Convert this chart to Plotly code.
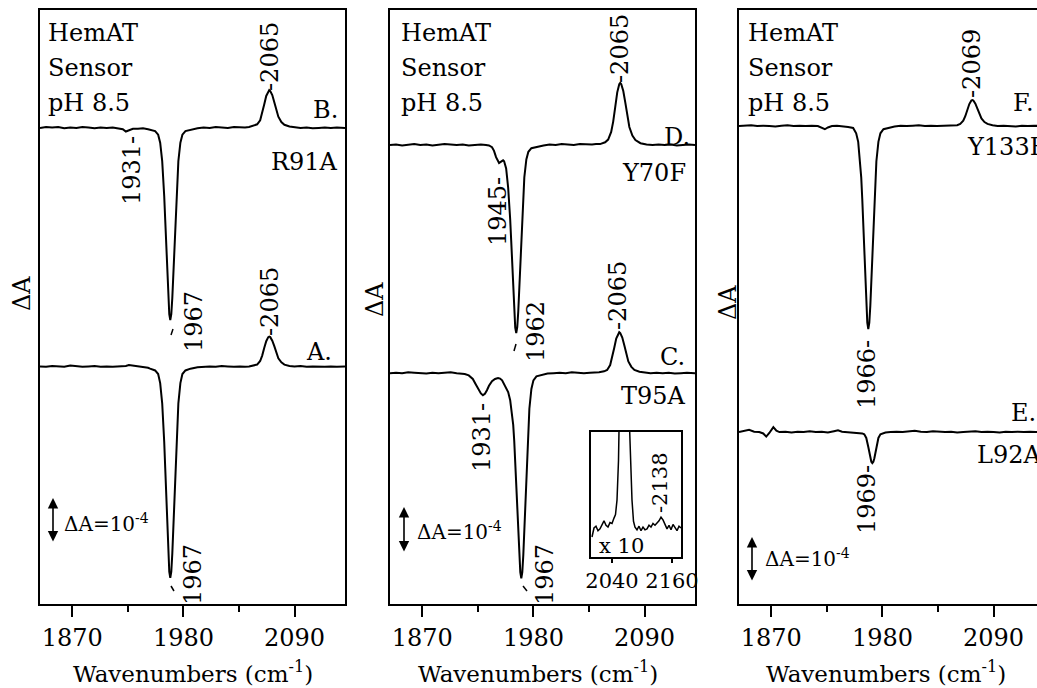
import plotly.graph_objects as go

# ---------------- data (ΔA in units of 1e-4, relative to each trace's own baseline) ----------------
wn_B = [1838, 1844, 1850, 1856, 1862, 1868, 1874, 1880, 1886, 1892, 1898, 1904, 1910, 1916,
        1920, 1923, 1926, 1930, 1935, 1940, 1945, 1947,
        1952, 1955, 1957, 1959,
        1960, 1961, 1962, 1963, 1964, 1965, 1966, 1967, 1968, 1969, 1970, 1971, 1972, 1973, 1974, 1975,
        1977, 1979, 1982, 1987, 1994,
        2000, 2006, 2012, 2018, 2024, 2030, 2036, 2041, 2045,
        2050, 2053, 2056, 2058, 2060, 2062, 2064, 2065, 2066, 2068, 2070, 2072, 2074, 2077, 2080, 2085,
        2090, 2096, 2102, 2108, 2114, 2120, 2126, 2132, 2140]
dA_B = [0.00, 0.02, 0.01, 0.02, -0.01, 0.01, 0.00, 0.02, 0.01, -0.01, 0.01, 0.00, 0.01, -0.01,
        -0.03, -0.08, -0.05, -0.02, -0.02, -0.01, -0.03, -0.04,
        -0.07, -0.15, -0.33, -0.74,
        -1.08, -1.52, -2.05, -2.65, -3.25, -3.78, -4.14, -4.27, -4.14, -3.78, -3.25, -2.65, -2.05, -1.52, -1.08, -0.74,
        -0.33, -0.15, -0.07, -0.04, -0.01,
        0.01, 0.00, 0.02, 0.01, 0.00, 0.02, 0.01, 0.01, 0.02,
        0.05, 0.08, 0.17, 0.32, 0.52, 0.71, 0.82, 0.84, 0.82, 0.73, 0.57, 0.39, 0.25, 0.13, 0.07, 0.03,
        0.01, 0.00, 0.01, -0.01, 0.00, 0.01, 0.00, 0.01, 0.00]

wn_A = [1838, 1844, 1850, 1856, 1862, 1868, 1874, 1880, 1886, 1892, 1898, 1904, 1910, 1916,
        1920, 1923, 1926, 1930, 1935, 1940, 1945, 1947,
        1952, 1955, 1957, 1959,
        1960, 1961, 1962, 1963, 1964, 1965, 1966, 1967, 1968, 1969, 1970, 1971, 1972, 1973, 1974, 1975,
        1977, 1979, 1982, 1987, 1994,
        2000, 2006, 2012, 2018, 2024, 2030, 2036, 2041, 2045,
        2050, 2053, 2056, 2058, 2060, 2062, 2064, 2065, 2066, 2068, 2070, 2072, 2074, 2077, 2080, 2085,
        2090, 2096, 2102, 2108, 2114, 2120, 2126, 2132, 2140]
dA_A = [0.01, 0.00, 0.02, 0.01, 0.00, 0.03, 0.01, 0.00, 0.01, 0.02, 0.00, 0.01, 0.00, 0.01,
        0.00, 0.02, 0.04, 0.03, 0.01, 0.00, -0.02, -0.04,
        -0.08, -0.16, -0.36, -0.81,
        -1.19, -1.67, -2.25, -2.91, -3.57, -4.15, -4.55, -4.69, -4.55, -4.15, -3.57, -2.91, -2.25, -1.67, -1.19, -0.81,
        -0.36, -0.16, -0.08, -0.04, -0.01,
        0.00, 0.01, 0.00, 0.02, 0.01, 0.00, 0.01, 0.00, 0.01,
        0.03, 0.05, 0.13, 0.25, 0.42, 0.57, 0.66, 0.67, 0.66, 0.58, 0.46, 0.31, 0.19, 0.10, 0.05, 0.02,
        0.01, 0.02, 0.00, 0.01, 0.00, 0.00, 0.01, 0.00, 0.01]

wn_D = [1838, 1844, 1850, 1856, 1862, 1868, 1874, 1880, 1886, 1892, 1898, 1904, 1910, 1916, 1922, 1928,
        1933, 1936, 1939, 1941, 1943, 1945, 1946, 1948, 1949, 1950, 1951,
        1953, 1955, 1956, 1957, 1958, 1959, 1960, 1961, 1962, 1963, 1964, 1965, 1966, 1967, 1968, 1969, 1970, 1971,
        1973, 1975, 1978, 1983,
        1990, 1996, 2002, 2008, 2014, 2020, 2026, 2032, 2038, 2042, 2046,
        2051, 2054, 2057, 2059, 2061, 2063, 2065, 2066, 2067, 2069, 2071, 2073, 2075, 2078, 2081, 2086, 2092,
        2098, 2104, 2110, 2116, 2122, 2128, 2134, 2140]
dA_D = [0.00, 0.01, -0.01, 0.01, 0.02, 0.00, 0.01, -0.01, 0.00, 0.02, 0.01, 0.00, 0.01, -0.01, 0.00, 0.01,
        0.00, -0.01, -0.05, -0.13, -0.27, -0.37, -0.40, -0.37, -0.35, -0.34, -0.36,
        -0.52, -0.95, -1.25, -1.65, -2.12, -2.66, -3.22, -3.72, -4.06, -4.18, -4.05, -3.70, -3.18, -2.60, -2.01, -1.49, -1.06, -0.72,
        -0.32, -0.15, -0.07, -0.04,
        -0.01, 0.01, 0.00, 0.02, 0.01, 0.00, 0.02, 0.01, 0.01, 0.02, 0.02,
        0.06, 0.12, 0.29, 0.52, 0.84, 1.17, 1.35, 1.38, 1.35, 1.20, 0.94, 0.64, 0.40, 0.21, 0.11, 0.04, 0.01,
        0.00, 0.01, 0.00, 0.01, -0.01, 0.00, 0.01, 0.00]

wn_C = [1838, 1844, 1850, 1856, 1862, 1868, 1874, 1880, 1886, 1892, 1898, 1904,
        1908, 1912, 1916, 1920, 1923, 1926, 1928, 1930, 1932, 1934, 1936, 1939, 1942, 1945, 1947, 1949, 1951,
        1953, 1955, 1957, 1958, 1960,
        1961, 1962, 1963, 1964, 1965, 1966, 1967, 1968, 1969, 1970, 1971, 1972, 1973, 1974, 1975, 1976,
        1978, 1980, 1983, 1988,
        1994, 2000, 2006, 2012, 2018, 2024, 2030, 2036, 2041, 2045,
        2050, 2053, 2056, 2058, 2060, 2062, 2064, 2065, 2066, 2068, 2070, 2072, 2074, 2077, 2080, 2085,
        2090, 2096, 2102, 2108, 2114, 2120, 2126, 2132, 2140]
dA_C = [0.00, 0.01, 0.00, 0.02, 0.01, 0.00, -0.01, 0.01, 0.00, 0.01, 0.02, 0.00,
        -0.01, -0.02, -0.05, -0.13, -0.25, -0.38, -0.45, -0.49, -0.46, -0.38, -0.28, -0.18, -0.13, -0.11, -0.12, -0.16, -0.25,
        -0.32, -0.42, -0.60, -0.75, -1.15,
        -1.50, -1.95, -2.45, -3.00, -3.55, -4.05, -4.42, -4.56, -4.42, -4.04, -3.47, -2.83, -2.19, -1.62, -1.15, -0.79,
        -0.35, -0.16, -0.07, -0.04,
        -0.01, 0.00, 0.01, 0.00, 0.02, 0.01, 0.00, 0.01, 0.01, 0.02,
        0.04, 0.07, 0.18, 0.35, 0.56, 0.77, 0.89, 0.91, 0.89, 0.79, 0.62, 0.42, 0.26, 0.14, 0.07, 0.03,
        0.01, 0.00, 0.01, 0.00, 0.01, -0.01, 0.00, 0.01, 0.00]

# inset: trace C, 2000-2178 cm-1, shown magnified x10
wn_inset = [2000, 2004, 2008, 2012, 2016, 2020, 2024, 2028, 2032, 2036, 2040, 2044,
            2047, 2050, 2053, 2056, 2060, 2065, 2070, 2074, 2077, 2080, 2083, 2086,
            2090, 2094, 2098, 2102, 2106, 2110, 2114, 2118, 2122, 2126, 2130, 2134, 2138,
            2142, 2146, 2150, 2154, 2158, 2162, 2166, 2170, 2174, 2178]
dA_inset = [-0.020, 0.000, 0.004, -0.006, -0.002, 0.008, 0.016, 0.006, 0.002, 0.012, 0.010, 0.022,
            0.030, 0.062, 0.15, 0.35, 0.56, 0.91, 0.62, 0.26, 0.14, 0.062, 0.015, 0.002,
            -0.004, 0.004, -0.006, 0.002, -0.004, -0.002, 0.006, 0.002, 0.010, 0.006, 0.011, 0.016, 0.024,
            0.018, 0.008, -0.002, 0.006, -0.004, 0.008, 0.000, -0.006, 0.004, 0.000]

wn_F = [1838, 1844, 1850, 1856, 1862, 1868, 1874, 1880, 1886, 1892, 1898, 1904, 1910, 1916,
        1920, 1923, 1926, 1930, 1935, 1940, 1946, 1951,
        1954, 1956, 1958,
        1959, 1960, 1961, 1962, 1963, 1964, 1965, 1966, 1967, 1968, 1969, 1970, 1971, 1972, 1973, 1974,
        1976, 1978, 1981, 1986,
        1992, 1998, 2004, 2010, 2016, 2022, 2028, 2034, 2040, 2044,
        2049, 2054, 2057, 2060, 2062, 2064, 2066, 2068, 2069, 2070, 2072, 2074, 2076, 2078, 2081, 2084, 2089,
        2094, 2100, 2106, 2112, 2118, 2124, 2130, 2136]
dA_F = [0.00, 0.01, 0.02, 0.00, 0.01, 0.00, -0.01, 0.01, 0.02, 0.00, 0.01, 0.00, 0.01, 0.00,
        -0.03, -0.07, -0.03, 0.00, 0.01, 0.00, -0.02, -0.04,
        -0.16, -0.35, -0.78,
        -1.14, -1.61, -2.16, -2.80, -3.43, -3.99, -4.37, -4.51, -4.37, -3.99, -3.43, -2.80, -2.16, -1.61, -1.14, -0.78,
        -0.35, -0.16, -0.07, -0.04,
        -0.01, 0.01, 0.00, 0.01, 0.02, 0.00, 0.01, 0.00, 0.01, 0.00,
        0.01, 0.02, 0.05, 0.12, 0.22, 0.36, 0.49, 0.57, 0.58, 0.57, 0.50, 0.39, 0.27, 0.17, 0.09, 0.05, 0.02,
        0.00, 0.01, 0.00, -0.01, 0.01, 0.00, 0.01, 0.00]

wn_E = [1838, 1843, 1848, 1853, 1858, 1862, 1865, 1868, 1872, 1875, 1878,
        1884, 1890, 1896, 1902, 1908, 1914, 1920, 1926, 1932, 1936, 1940, 1946, 1952,
        1957, 1960, 1962, 1964, 1966,
        1967, 1968, 1969, 1970, 1971, 1972, 1973, 1974,
        1976, 1978, 1980, 1983, 1988,
        1994, 2000, 2006, 2012, 2018, 2024, 2030, 2036, 2042, 2048, 2054, 2060, 2066, 2072, 2078, 2084,
        2090, 2096, 2102, 2108, 2114, 2120, 2126, 2132, 2138]
dA_E = [0.00, 0.02, 0.05, 0.01, 0.00, -0.03, -0.10, -0.02, 0.11, 0.03, 0.00,
        0.01, -0.01, 0.01, 0.00, 0.02, 0.00, 0.01, -0.01, 0.02, 0.04, 0.01, 0.00, -0.01,
        -0.01, -0.03, -0.05, -0.13, -0.33,
        -0.46, -0.58, -0.66, -0.69, -0.66, -0.58, -0.46, -0.33,
        -0.13, -0.05, -0.03, -0.01, 0.00,
        0.01, 0.00, 0.02, 0.03, 0.01, 0.00, 0.02, 0.01, 0.00, 0.01, -0.01, 0.00, 0.01, 0.02, 0.00, 0.01,
        0.00, -0.01, 0.01, 0.00, 0.01, 0.00, 0.01, 0.00, 0.01]

tick_vals = [1870, 1980, 2090]
minor_vals = [1925, 2035]
inset_ticks = [2040, 2160]

# ---------------- layout helpers (stacking offsets, page geometry) ----------------
W, H = 1037, 688
def px(x): return x / W
def py(y): return 1 - y / H

FONT = "DejaVu Serif, Liberation Serif, Noto Serif, Times New Roman, serif"
LW = 2

fig = go.Figure()

stack = [
    ("x", "y", [(wn_A, dA_A, 0.0), (wn_B, dA_B, 5.31)]),
    ("x2", "y2", [(wn_C, dA_C, 0.0), (wn_D, dA_D, 5.07)]),
    ("x3", "y3", [(wn_E, dA_E, 0.0), (wn_F, dA_F, 6.80)]),
]
for xa, ya, trs in stack:
    for wn, dA, off in trs:
        fig.add_trace(go.Scatter(x=wn, y=[v + off for v in dA], mode="lines",
                                 line=dict(color="black", width=LW),
                                 xaxis=xa, yaxis=ya, showlegend=False, hoverinfo="skip"))

fig.add_trace(go.Scatter(x=wn_inset, y=dA_inset, mode="lines",
                         line=dict(color="black", width=1.5),
                         xaxis="x4", yaxis="y4", showlegend=False, hoverinfo="skip"))

ydom = [py(604), py(10)]
xdoms = [[px(40), px(345)], [px(390), px(695)], [px(739), 1.0]]
xranges = [[1838, 2140], [1838, 2140], [1838, 2133]]
yranges = [[-5.27, 7.93], [-5.13, 8.07], [-3.82, 9.38]]

common_x = dict(tickvals=tick_vals, ticks="outside", ticklen=11, tickwidth=2, tickcolor="black",
                showline=True, linewidth=2, linecolor="black", mirror=True,
                showgrid=False, zeroline=False, automargin=False,
                tickfont=dict(family=FONT, size=24, color="black"),
                minor=dict(tickvals=minor_vals, ticks="outside", ticklen=6, tickwidth=2, tickcolor="black"))
common_y = dict(showticklabels=False, ticks="", showline=True, linewidth=2, linecolor="black",
                showgrid=False, zeroline=False, automargin=False)

lay = {}
for i in range(3):
    sx = "" if i == 0 else str(i + 1)
    lay["xaxis" + sx] = dict(common_x, domain=xdoms[i], range=xranges[i], anchor="y" + sx)
    lay["yaxis" + sx] = dict(common_y, domain=ydom, range=yranges[i], anchor="x" + sx,
                             mirror=(i < 2))
lay["xaxis4"] = dict(domain=[px(591), px(681)], range=[1998, 2178], anchor="y4",
                     tickvals=inset_ticks, ticks="outside", ticklen=4, tickwidth=1.5, tickcolor="black",
                     showline=True, linewidth=1.5, linecolor="black", mirror=True,
                     showgrid=False, zeroline=False, automargin=False,
                     tickfont=dict(family=FONT, size=21, color="black"))
lay["yaxis4"] = dict(domain=[py(557), py(432)], range=[-0.0644, 0.2133], anchor="x4",
                     showticklabels=False, ticks="", showline=True, linewidth=1.5,
                     linecolor="black", mirror=True, showgrid=False, zeroline=False,
                     automargin=False)

fig.update_layout(template="none", width=W, height=H, autosize=False,
                  margin=dict(l=0, r=0, t=0, b=0, pad=0),
                  font=dict(family=FONT, color="black"),
                  paper_bgcolor="white", plot_bgcolor="white", **lay)

ann = []
def text(x, y, s, xa="center", ya="middle", ang=0, size=24):
    ann.append(dict(x=px(x), y=py(y), xref="paper", yref="paper", text=s, showarrow=False,
                    xanchor=xa, yanchor=ya, textangle=ang,
                    font=dict(family=FONT, size=size, color="black")))

def arrow(x, y0, y1):
    ann.append(dict(x=px(x), y=py(y0), xref="paper", yref="paper", text="", showarrow=True,
                    ax=0, ay=y1 - y0, arrowside="end+start", arrowhead=2, arrowsize=1.3,
                    arrowwidth=1.6, arrowcolor="black", standoff=0, startstandoff=0,
                    font=dict(family=FONT, size=12, color="black")))

for x0 in (46, 399, 746):
    text(x0, 33, "HemAT", xa="left")
    text(x0, 68, "Sensor", xa="left")
    text(x0, 103, "pH 8.5", xa="left")

# panel 1
text(340, 110, "B.", xa="right")
text(340, 162, "R91A", xa="right")
text(270, 57, "-2065", ang=-90)
text(132, 171, "1931-", ang=-90)
text(194, 322, "1967", ang=-90)
text(22, 294, "ΔA", ang=-90)
text(334, 352, "A.", xa="right")
text(270, 302, "-2065", ang=-90)
text(193, 575, "1967", ang=-90)
arrow(53, 498, 543)
text(62, 523, "ΔA=10<sup>-4</sup>", xa="left", size=20)
text(193, 672, "Wavenumbers (cm<sup>-1</sup>)", size=23)

# panel 2
text(620, 49, "-2065", ang=-90)
text(692, 137, "D.", xa="right")
text(688, 173, "Y70F", xa="right")
text(498, 212, "1945-", ang=-90)
text(375, 300, "ΔA", ang=-90)
text(536, 332, "1962", ang=-90)
text(618, 296, "-2065", ang=-90)
text(687, 357, "C.", xa="right")
text(688, 396, "T95A", xa="right")
text(482, 438, "1931-", ang=-90)
text(545, 575, "1967", ang=-90)
arrow(404, 507, 553)
text(415, 531, "ΔA=10<sup>-4</sup>", xa="left", size=20)
text(538, 672, "Wavenumbers (cm<sup>-1</sup>)", size=23)
text(621, 546, "x 10", size=21)
text(660, 483, "-2138", ang=-90, size=21)

# panel 3
text(972, 64, "-2069", ang=-90)
text(1011, 103, "F.", xa="left")
text(965, 147, "Y133F", xa="left")
text(867, 375, "1966-", ang=-90)
text(728, 303, "ΔA", ang=-90)
text(1009, 413, "E.", xa="left")
text(975, 455, "L92A", xa="left")
text(867, 500, "1969-", ang=-90)
arrow(752, 537, 582)
text(763, 558, "ΔA=10<sup>-4</sup>", xa="left", size=20)
text(886, 672, "Wavenumbers (cm<sup>-1</sup>)", size=23)

fig.update_layout(annotations=ann)

marks = [((171, 335), (173, 329)), ((171, 586), (174, 591)),
         ((514, 351), (516, 344)), ((523, 586), (527, 591))]
fig.update_layout(shapes=[dict(type="line", xref="paper", yref="paper",
                               x0=px(a[0]), y0=py(a[1]), x1=px(b[0]), y1=py(b[1]),
                               line=dict(color="black", width=1.5)) for a, b in marks])

fig.write_html("out.html", config={"responsive": False})
